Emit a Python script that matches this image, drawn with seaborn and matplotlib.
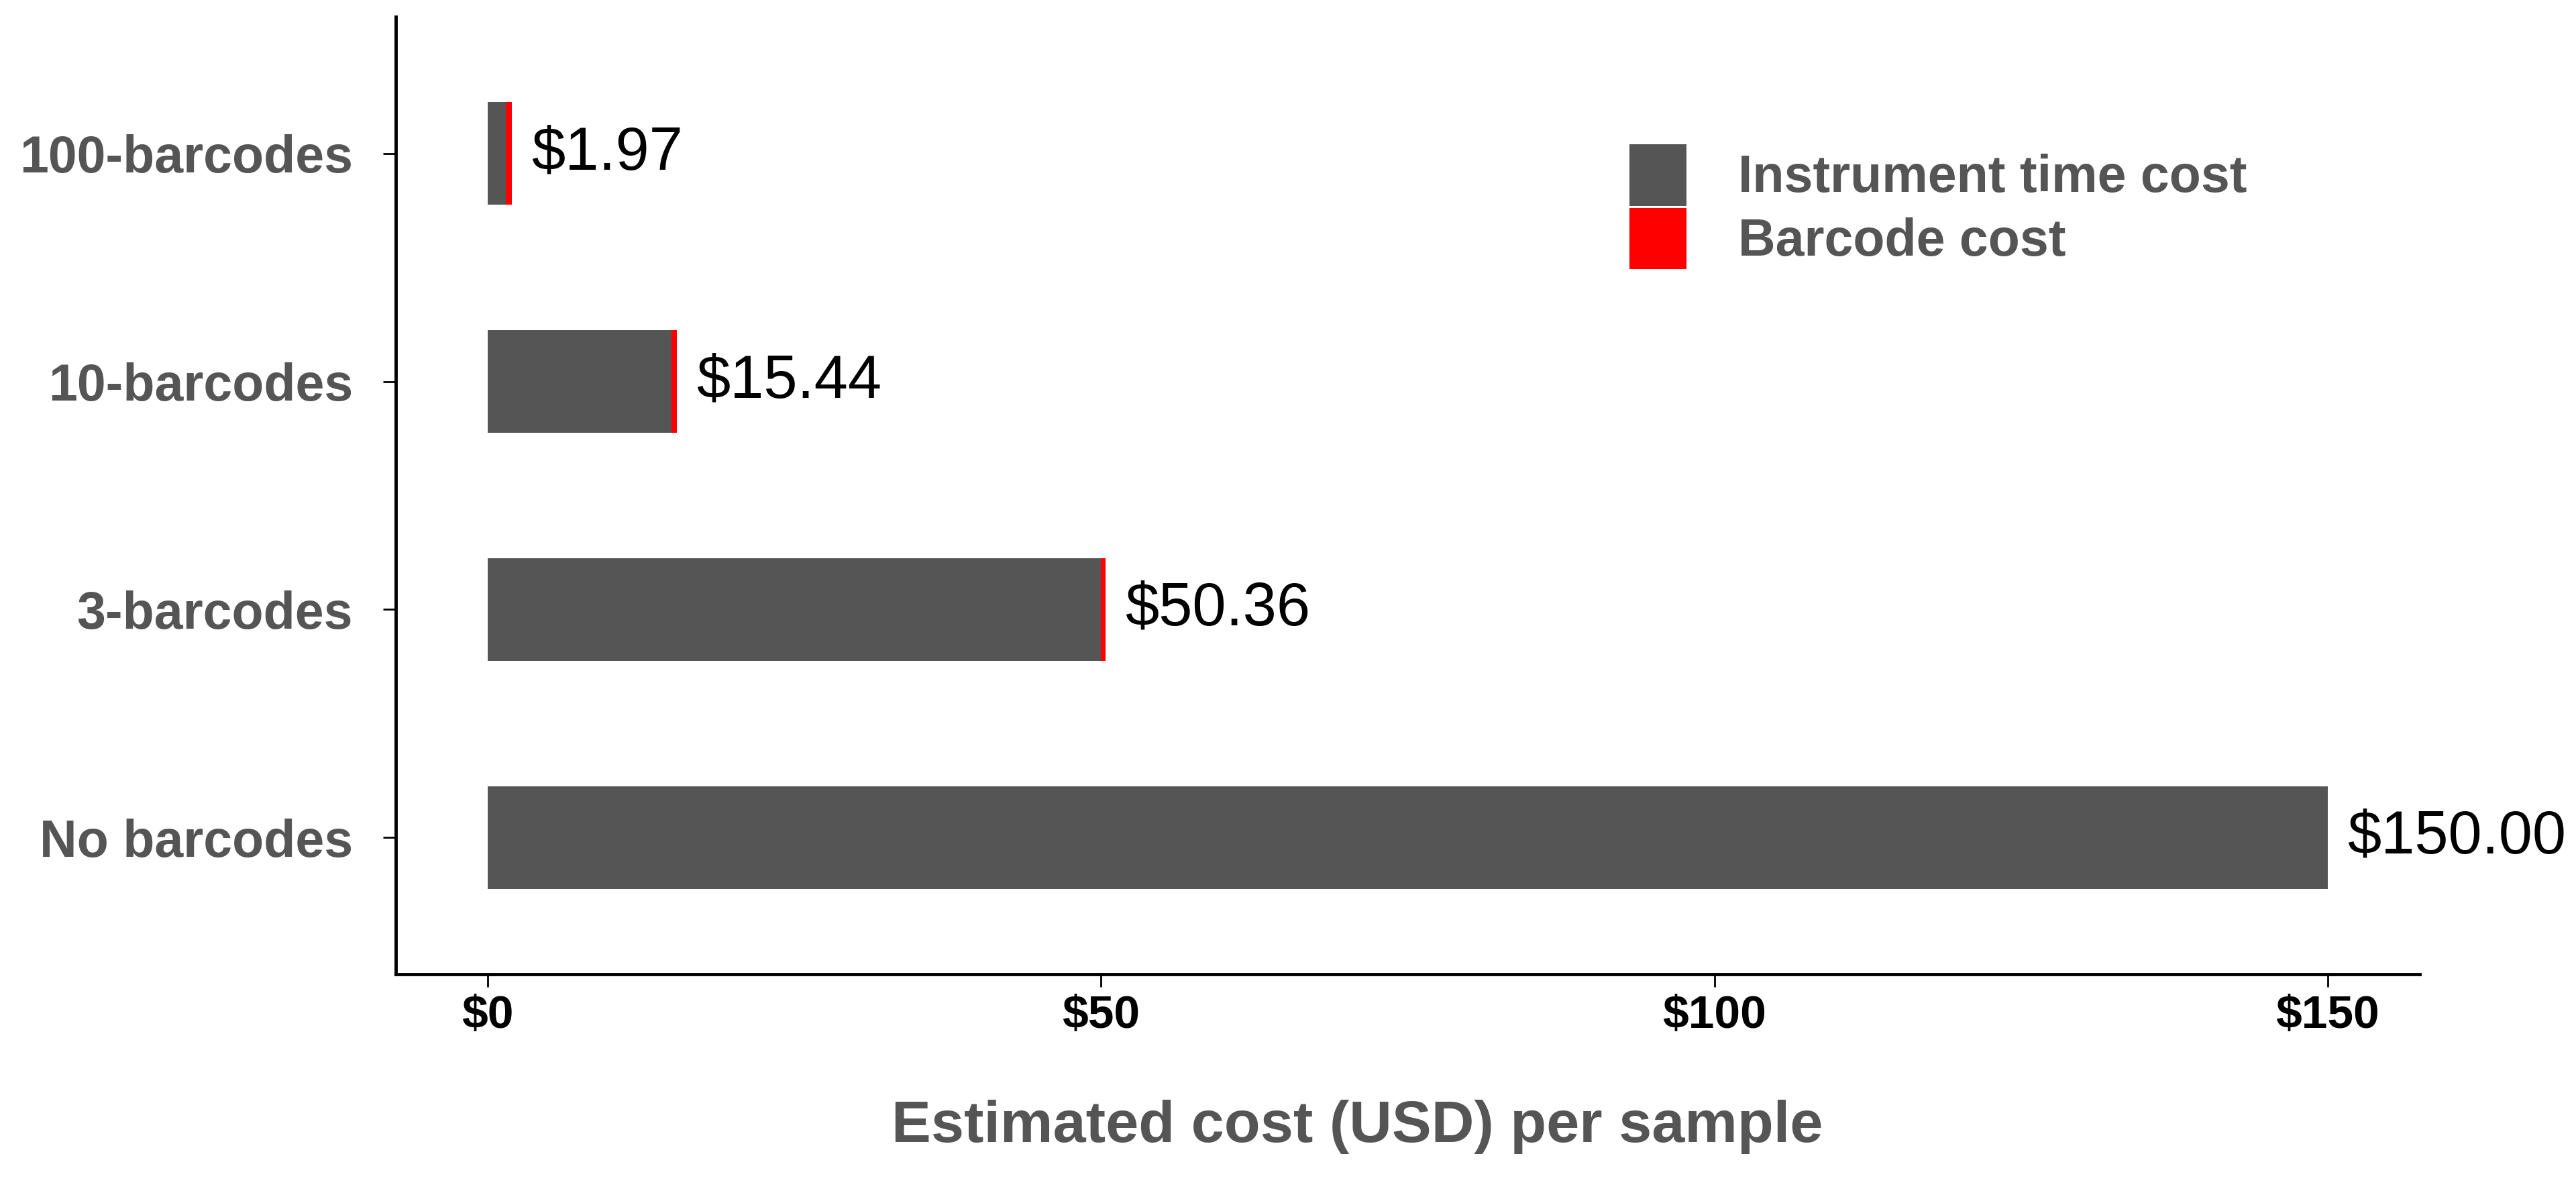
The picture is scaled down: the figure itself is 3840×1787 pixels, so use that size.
import pandas as pd
import matplotlib.pyplot as plt
import matplotlib.patches as mpatches
import seaborn as sns

# Data
categories = ['100-barcodes', '10-barcodes', '3-barcodes', 'No barcodes']
instrument_cost = [1.50, 15.00, 50.00, 150.00]
barcode_cost = [0.47, 0.44, 0.36, 0.00]
x_ticks = [0, 50, 100, 150]
x_tick_labels = ['$0', '$50', '$100', '$150']

cost_data = pd.DataFrame({
    'Category': categories,
    'Instrument': instrument_cost,
    'Barcode': barcode_cost,
})
cost_data['Total'] = cost_data['Instrument'] + cost_data['Barcode']

sns.set_theme(style='white')
plt.rcParams['font.family'] = ['Liberation Sans', 'DejaVu Sans']

gray = '#555555'
red = '#FF0000'

fig = plt.figure(figsize=(38.4, 17.87), dpi=100)
ax = fig.add_axes([0.1536, 0.1875, 0.9393 - 0.1536, 0.986 - 0.1875])

# stacked bars: total in red underneath, instrument time in gray on top
sns.barplot(data=cost_data, x='Total', y='Category', order=categories,
            color=red, saturation=1, width=0.45, orient='h', linewidth=0, ax=ax)
sns.barplot(data=cost_data, x='Instrument', y='Category', order=categories,
            color=gray, saturation=1, width=0.45, orient='h', linewidth=0, ax=ax)

# value labels at the end of each bar
for i, total in enumerate(cost_data['Total']):
    ax.annotate(f'${total:.2f}', xy=(total, i), xytext=(21, 0),
                textcoords='offset points', va='center', ha='left',
                fontsize=65, color='black')

ax.set_xlim(-7.5, 157.5)
ax.set_ylim(3.6, -0.6)
ax.set_xticks(x_ticks)
ax.set_xticklabels(x_tick_labels, fontsize=50, fontweight='bold', color='black')
ax.set_yticks(range(len(categories)))
ax.set_yticklabels(categories, fontsize=55.5, fontweight='bold', color=gray)
ax.tick_params(axis='y', length=14, width=2, pad=32, color='black', left=True)
ax.tick_params(axis='x', length=14, width=2, pad=8, color='black', bottom=True)

ax.set_ylabel('')
ax.set_xlabel('Estimated cost (USD) per sample', fontsize=63.5,
              fontweight='bold', color=gray)
ax.xaxis.label.set_va('baseline')
ax.xaxis.set_label_coords(0.475, -0.175)

sns.despine(ax=ax)
for side in ['left', 'bottom']:
    ax.spines[side].set_color('black')
    ax.spines[side].set_linewidth(3.5)

handles = [mpatches.Patch(facecolor=gray, edgecolor='none', label='Instrument time cost'),
           mpatches.Patch(facecolor=red, edgecolor='none', label='Barcode cost')]
fig.legend(handles=handles, loc='upper left', bbox_to_anchor=(0.6326, 0.8797),
           frameon=False, labelcolor=gray,
           prop={'weight': 'bold', 'size': 55.5},
           handlelength=1.1, handleheight=1.45, handletextpad=1.0,
           labelspacing=0.04, borderpad=0, borderaxespad=0)

plt.savefig('out.png', dpi=100)
